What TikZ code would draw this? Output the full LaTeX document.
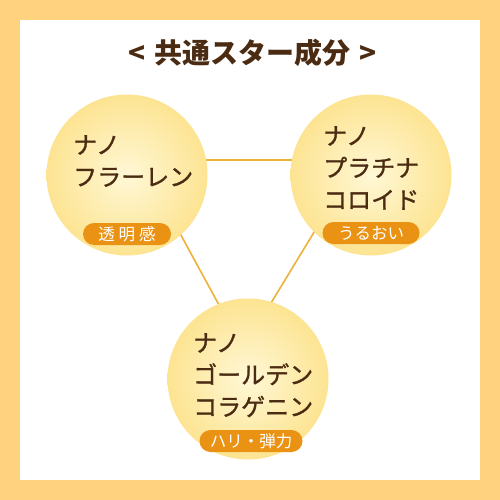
\documentclass[tikz,border=0pt]{standalone}
\usepackage{fontspec}
\newfontfamily\jp{Noto Sans CJK JP}
\newfontfamily\jpb[FakeBold=1.2]{Noto Sans CJK JP}
\definecolor{framec}{HTML}{FFD27F}
\definecolor{txtc}{HTML}{4B2C13}
\definecolor{pillc}{HTML}{E99213}
\definecolor{linec}{HTML}{EDB23A}
\definecolor{ballin}{HTML}{FFF8D6}
\definecolor{ballout}{HTML}{FDE492}
\tikzset{
  ballnode/.style={circle, minimum size=161pt, inner sep=0pt, shading=radial, inner color=ballin, outer color=ballout},
  pillnode/.style={rounded corners=11pt, fill=pillc, text=white, inner sep=0pt, minimum height=22pt, font=\jp\fontsize{16.5}{16}\selectfont},
  nametext/.style={text=txtc, anchor=north west, align=left, inner sep=0pt, font=\jpb\fontsize{24}{32}\selectfont},
  triline/.style={draw=linec, line width=1.6pt}
}
\begin{document}
\begin{tikzpicture}[x=1pt,y=-1pt]
\useasboundingbox (0,0) rectangle (500,500);
\fill[framec] (0,0) rectangle (500,500);
\fill[white] (20,20) rectangle (480,480);
\node[text=txtc, font=\jp\bfseries\fontsize{28}{28}\selectfont] (title) at (253,53) {<\hspace{9pt}共通スター成分\hspace{9pt}>};
\coordinate (v1) at (140,160);
\coordinate (v2) at (358,160);
\coordinate (v3) at (243,349);
\draw[triline] (v1) -- (v2) -- (v3) -- cycle;
\node[ballnode] (b1) at (127,175) {};
\node[ballnode] (b2) at (371,175) {};
\node[ballnode] (b3) at (248,379) {};
\node[nametext] (t1) at (73,135) {ナノ\\フラーレン};
\node[nametext] (t2) at (323,126) {ナノ\\プラチナ\\コロイド};
\node[nametext] (t3) at (193,333) {ナノ\\ゴールデン\\コラゲニン};
\node[pillnode, minimum width=88pt] (p1) at (127,234) {透\hspace{4pt}明\hspace{4pt}感};
\node[pillnode, minimum width=97pt] (p2) at (371,233) {うるおい};
\node[pillnode, minimum width=103pt] (p3) at (251,441) {ハリ・弾力};
\end{tikzpicture}
\end{document}
